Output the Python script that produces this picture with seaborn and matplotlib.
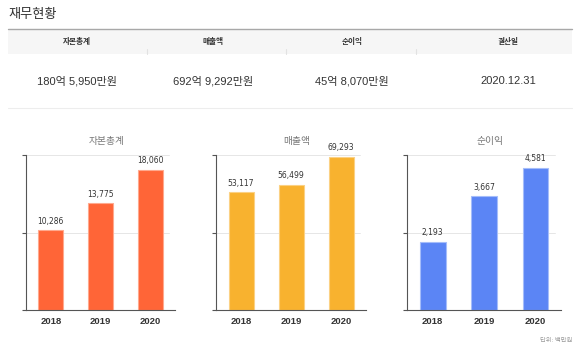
import matplotlib
matplotlib.use("Agg")
import matplotlib.pyplot as plt
import seaborn as sns
import pandas as pd
from matplotlib.patches import Rectangle
from matplotlib.lines import Line2D

# ---- data ----
years = ["2018", "2019", "2020"]
equity = [10286, 13775, 18060]
revenue = [53117, 56499, 69293]
net_income = [2193, 3667, 4581]
chart_titles = ["자본총계", "매출액", "순이익"]
y_max = [20000, 70000, 5000]
header_labels = ["자본총계", "매출액", "순이익", "결산일"]
header_values = ["180억 5,950만원", "692억 9,292만원", "45억 8,070만원", "2020.12.31"]
page_title = "재무현황"
unit_note = "단위: 백만원"

colors = ["#FF6537", "#F8B22F", "#5B85F5"]
edge_colors = ["#FFA98E", "#FBD184", "#A5BDFA"]

sns.set_theme(style="white")
plt.rcParams['font.family'] = ['Liberation Sans', 'Noto Sans CJK KR', 'DejaVu Sans']

W, H = 580, 360
fig = plt.figure(figsize=(W / 100, H / 100), dpi=100)
fig.patch.set_facecolor("white")


def fx(x):
    return x / W


def fy(y):
    return 1 - y / H


def box(x0, y0, x1, y1):
    return [fx(x0), fy(y1), (x1 - x0) / W, (y1 - y0) / H]


# ---- header ----
fig.text(fx(8), fy(15), page_title, fontsize=9.5, color="#333333", va="center", ha="left")
fig.patches.append(Rectangle((fx(8), fy(54)), (572 - 8) / W, 25 / H, transform=fig.transFigure,
                             facecolor="#F6F6F6", edgecolor="none", zorder=0))
fig.lines.append(Line2D([fx(8), fx(572)], [fy(29), fy(29)], transform=fig.transFigure,
                        color="#A8A8A8", linewidth=1.0))
fig.lines.append(Line2D([fx(8), fx(572)], [fy(108), fy(108)], transform=fig.transFigure,
                        color="#EDEDED", linewidth=0.8))
header_x = [77, 213, 352, 508]
for hx, lab, val in zip(header_x, header_labels, header_values):
    fig.text(fx(hx), fy(42), lab, fontsize=5.5, fontweight="bold", color="#333333",
             ha="center", va="center")
    fig.text(fx(hx), fy(81), val, fontsize=8, color="#333333", ha="center", va="center")
for sx in [147, 286, 416]:
    fig.lines.append(Line2D([fx(sx), fx(sx)], [fy(49), fy(54)], transform=fig.transFigure,
                            color="#E2E2E2", linewidth=0.8))

# ---- charts ----
panels = [(26, 175), (216, 366), (407, 561)]
series = [equity, revenue, net_income]
for i, ((x0, x1), vals) in enumerate(zip(panels, series)):
    ax = fig.add_axes(box(x0, 155, x1, 310))
    df = pd.DataFrame({"year": years, "value": vals})
    sns.barplot(data=df, x="year", y="value", ax=ax, color=colors[i], width=0.5,
                edgecolor=edge_colors[i], linewidth=0.8, saturation=1)
    ax.set_ylim(0, y_max[i])
    ax.set_xlim(-0.5, 2.5)
    ax.set_yticks([0, y_max[i] / 2, y_max[i]])
    ax.set_yticklabels([])
    ax.set_xlabel("")
    ax.set_ylabel("")
    for yv in [y_max[i] / 2, y_max[i]]:
        ax.axhline(yv, xmax=0.96, color="#E6E6E6", linewidth=0.7, zorder=0)
    ax.set_axisbelow(True)
    ax.set_xticks([0, 1, 2])
    ax.set_xticklabels(years, fontsize=6.8, fontweight="bold", color="#333333")
    ax.tick_params(axis="x", which="major", length=0, pad=5)
    ax.set_xticks([-0.5, 0.5, 1.5], minor=True)
    ax.tick_params(axis="x", which="minor", length=3, width=0.8, color="#555555", direction="out")
    ax.tick_params(axis="y", which="major", length=3, width=0.8, color="#555555", direction="out", left=True)
    for side in ["top", "right"]:
        ax.spines[side].set_visible(False)
    for side in ["left", "bottom"]:
        ax.spines[side].set_color("#555555")
        ax.spines[side].set_linewidth(0.8)
    for j, v in enumerate(vals):
        ax.text(j, v + y_max[i] * 0.03, f"{v:,}", ha="center", va="bottom", fontsize=5.5,
                color="#333333", fontfamily="DejaVu Sans")
    ax.set_title(chart_titles[i], fontsize=7, color="#777777", pad=8, x=0.54)

fig.text(fx(572), fy(340), unit_note, fontsize=4.5, color="#999999", ha="right", va="center")

fig.savefig("out.png", dpi=100, facecolor="white")
